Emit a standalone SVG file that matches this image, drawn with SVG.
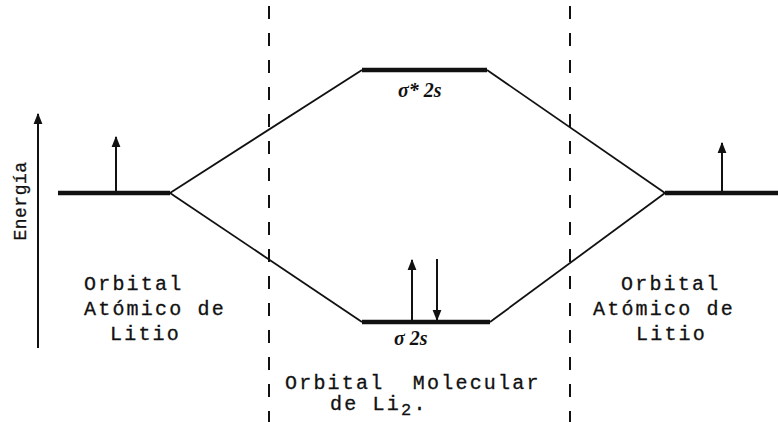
<svg xmlns="http://www.w3.org/2000/svg" width="778" height="422" viewBox="0 0 778 422">
<defs>
<marker id="ah" viewBox="0 0 10 10" refX="9" refY="5" markerWidth="5.5" markerHeight="5.5" orient="auto-start-reverse">
<path d="M0,1 L10,5 L0,9 Z" fill="#111"/>
</marker>
<style>
.lvl{stroke:#111;stroke-width:4.5;stroke-linecap:butt}
.ln{stroke:#111;stroke-width:1.8;fill:none}
.dash{stroke:#111;stroke-width:2;stroke-dasharray:13 14}
.spin{stroke:#111;stroke-width:2;marker-end:url(#ah)}
.t{font-family:"Liberation Mono","DejaVu Sans Mono",monospace;font-size:20px;letter-spacing:2.2px;fill:#111;stroke:#111;stroke-width:0.3;white-space:pre}
.e{font-family:"Liberation Mono","DejaVu Sans Mono",monospace;font-size:18px;letter-spacing:0.5px;fill:#111;stroke:#111;stroke-width:0.3}
.h{font-family:"Liberation Serif","DejaVu Serif",serif;font-style:italic;font-weight:bold;font-size:20px;fill:#111}
</style>
</defs>
<rect width="778" height="422" fill="#fff"/>
<g id="connectors">
<line class="dash" x1="269" y1="6" x2="269" y2="422"/>
<line class="dash" x1="570" y1="6" x2="570" y2="422"/>
<path class="ln" d="M170,193 L362,70"/>
<path class="ln" d="M170,193 L362,322"/>
<path class="ln" d="M487,70 L665,193"/>
<path class="ln" d="M490,322 L665,193"/>
</g>
<g id="axis">
<line x1="38" y1="348" x2="38" y2="114" stroke="#111" stroke-width="2" marker-end="url(#ah)"/>
<text class="e" transform="translate(26,201) rotate(-90)" text-anchor="middle">Energía</text>
</g>
<g id="ao-left">
<line class="lvl" x1="58" y1="193" x2="170" y2="193"/>
<line class="spin" x1="116" y1="192" x2="116" y2="137"/>
<text class="t" x="84" y="290">Orbital</text>
<text class="t" x="84" y="315">Atómico de</text>
<text class="t" x="110" y="340">Litio</text>
</g>
<g id="mo-antibonding">
<line class="lvl" x1="362" y1="70" x2="487" y2="70"/>
<text class="h" x="398" y="97">σ* 2s</text>
</g>
<g id="mo-bonding">
<line class="lvl" x1="362" y1="322" x2="490" y2="322"/>
<line class="spin" x1="412" y1="321" x2="412" y2="260"/>
<line class="spin" x1="437" y1="259" x2="437" y2="320"/>
<text class="h" x="394" y="345">σ 2s</text>
<text class="t" x="285" y="389" xml:space="preserve">Orbital  Molecular</text>
<text class="t" x="330" y="410">de Li<tspan dy="5" style="font-size:17px">2</tspan><tspan dy="-5">.</tspan></text>
</g>
<g id="ao-right">
<line class="lvl" x1="665" y1="193" x2="778" y2="193"/>
<line class="spin" x1="722" y1="192" x2="722" y2="143"/>
<text class="t" x="621" y="290">Orbital</text>
<text class="t" x="593" y="315">Atómico de</text>
<text class="t" x="636" y="340">Litio</text>
</g>
</svg>
